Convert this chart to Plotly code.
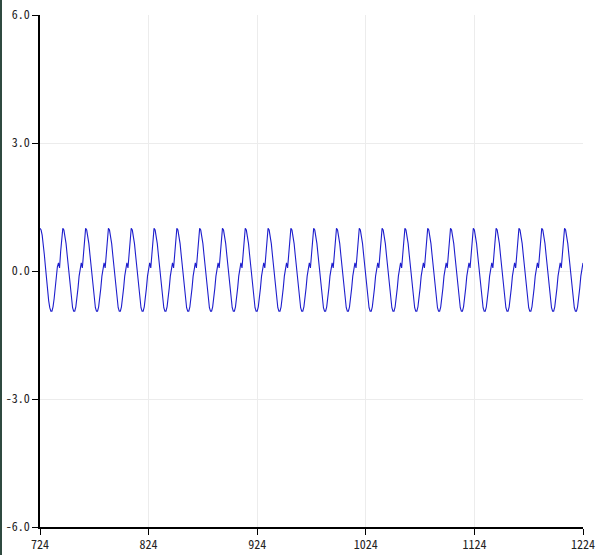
import plotly.graph_objects as go

# One cycle of the waveform (21 samples), repeated across the x range
cycle_values = [1.0, 0.96, 0.84, 0.64, 0.38, 0.10, -0.20, -0.47, -0.70, -0.86, -0.94,
                -0.94, -0.84, -0.65, -0.40, -0.12, 0.10, 0.19, 0.07, 0.45, 0.82]
x_start = 724
x_end = 1224

x_values = list(range(x_start, x_end + 1))
y_values = [cycle_values[(x - x_start) % len(cycle_values)] for x in x_values]

x_ticks = [724, 824, 924, 1024, 1124, 1224]
y_ticks = [-6.0, -3.0, 0.0, 3.0, 6.0]

fig = go.Figure()
fig.add_trace(go.Scatter(
    x=x_values, y=y_values, mode="lines",
    line=dict(color="rgb(30,30,205)", width=1.1),
    showlegend=False, hoverinfo="skip",
))

tick_font = dict(family="Noto Sans Mono CJK JP, DejaVu Sans Mono, monospace", size=12, color="#222")

fig.update_layout(
    width=599, height=555,
    margin=dict(l=40, r=16, t=15, b=28, autoexpand=False),
    paper_bgcolor="white", plot_bgcolor="white",
    xaxis=dict(
        range=[x_start, x_end], tickmode="array", tickvals=x_ticks,
        ticktext=[str(v) for v in x_ticks], automargin=False,
        showgrid=True, gridcolor="#ececec", gridwidth=1,
        showline=True, linecolor="black", linewidth=1.5,
        ticks="outside", ticklen=6, tickcolor="black", tickwidth=1,
        zeroline=False, tickfont=tick_font,
    ),
    yaxis=dict(
        range=[-6, 6], tickmode="array", tickvals=y_ticks,
        ticktext=[f"{v:.1f}" for v in y_ticks], automargin=False,
        showgrid=True, gridcolor="#ececec", gridwidth=1,
        showline=True, linecolor="black", linewidth=1.5,
        ticks="outside", ticklen=6, tickcolor="black", tickwidth=1,
        zeroline=False, tickfont=tick_font,
    ),
    shapes=[dict(type="line", xref="paper", yref="paper",
                 x0=-39/543, x1=-39/543, y0=-28/512, y1=1+15/512,
                 line=dict(color="#2f4a40", width=2))],
)

fig.write_html(
    "out.html",
    config={"displayModeBar": False},
    post_script="document.body.style.margin='0px';document.body.style.overflow='hidden';",
)
